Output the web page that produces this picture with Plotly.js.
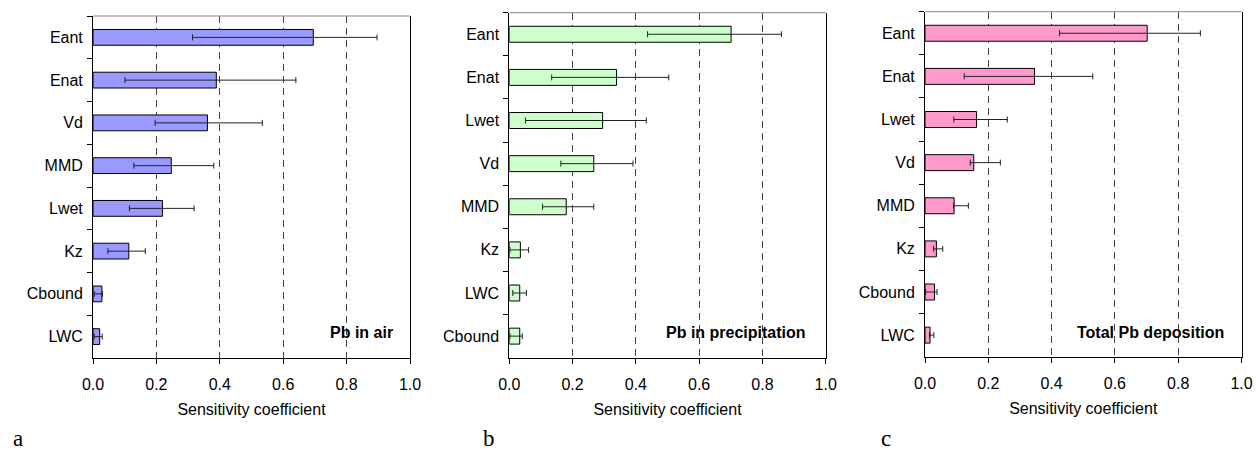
<!DOCTYPE html>
<html><head><meta charset="utf-8">
<script src="https://cdn.plot.ly/plotly-3.0.1.min.js"></script>
<style>html,body{margin:0;padding:0;background:#fff}#c{width:1256px;height:452px}</style>
</head><body><div id="c"></div><script>
// Panel a: Pb in air
const catsA = ['Eant','Enat','Vd','MMD','Lwet','Kz','Cbound','LWC'];
const valsA = [0.695,0.389,0.361,0.247,0.219,0.113,0.028,0.021];
const lowA  = [0.314,0.101,0.196,0.129,0.115,0.047,0.004,0.004];
const highA = [0.896,0.640,0.534,0.381,0.319,0.165,0.030,0.029];
// Panel b: Pb in precipitation
const catsB = ['Eant','Enat','Lwet','Vd','MMD','Kz','LWC','Cbound'];
const valsB = [0.701,0.339,0.295,0.267,0.180,0.035,0.033,0.033];
const lowB  = [0.437,0.134,0.051,0.163,0.105,0.002,0.011,0.002];
const highB = [0.860,0.504,0.433,0.391,0.267,0.061,0.054,0.041];
// Panel c: Total Pb deposition
const catsC = ['Eant','Enat','Lwet','Vd','MMD','Kz','Cbound','LWC'];
const valsC = [0.702,0.346,0.163,0.154,0.092,0.036,0.030,0.016];
const lowC  = [0.425,0.124,0.091,0.143,0.090,0.027,0.002,0.014];
const highC = [0.870,0.530,0.260,0.238,0.137,0.056,0.038,0.028];

const xTicks = [0,0.2,0.4,0.6,0.8,1.0];
const panelTitles = ['Pb in air','Pb in precipitation','Total Pb deposition'];
const panelLetters = ['a','b','c'];

const FONT = 'Liberation Sans, Arial, sans-serif';
const W = 1256, H = 452;
const panels = [
  {cats:catsA, vals:valsA, lo:lowA, hi:highA, color:'#9999FF', x:[93,410], y:[16,358], lab:395, letter:18},
  {cats:catsB, vals:valsB, lo:lowB, hi:highB, color:'#CCFFCC', x:[509.3,825.7], y:[12.7,357.7], lab:808, letter:489},
  {cats:catsC, vals:valsC, lo:lowC, hi:highC, color:'#FF99CC', x:[925,1241.5], y:[11.7,356.7], lab:1226, letter:886}
];

const data = [];
const layout = {
  width: W, height: H, margin:{l:0,r:0,t:0,b:0},
  paper_bgcolor:'#fff', plot_bgcolor:'#fff', showlegend:false,
  bargap: 0.63, font:{family:FONT, size:16, color:'#000'},
  shapes:[], annotations:[]
};

panels.forEach((p,i)=>{
  const n = i===0 ? '' : String(i+1);
  data.push({
    type:'bar', orientation:'h', x:p.vals, y:p.cats,
    xaxis:'x'+n, yaxis:'y'+n,
    marker:{color:p.color, line:{color:'#000', width:1}},
    error_x:{type:'data', symmetric:false,
      array:p.vals.map((v,k)=>p.hi[k]-v),
      arrayminus:p.vals.map((v,k)=>v-p.lo[k]),
      color:'#222', thickness:1, width:3},
    hoverinfo:'x+y'
  });
  layout['xaxis'+n] = {
    domain:[p.x[0]/W, p.x[1]/W], anchor:'y'+n, range:[0,1],
    tickvals:xTicks, tickformat:'.1f', ticks:'outside', ticklen:5, tickcolor:'#000',
    showline:true, linecolor:'#000', linewidth:1, zeroline:false,
    showgrid:true, gridcolor:'#444', gridwidth:1, griddash:'7px,5px',
    tickfont:{family:FONT, size:16, color:'#000'}, ticklabelstandoff:7,
    title:{text:'Sensitivity coefficient', font:{family:FONT, size:16, color:'#000'}, standoff:11}
  };
  layout['yaxis'+n] = {
    domain:[1-p.y[1]/H, 1-p.y[0]/H], anchor:'x'+n, type:'category',
    autorange:'reversed', ticks:'outside', tickson:'boundaries', ticklen:5, tickcolor:'#000',
    showline:true, mirror:true, linecolor:'#000', linewidth:1, showgrid:false, zeroline:false,
    tickfont:{family:FONT, size:16, color:'#000'}, ticklabelstandoff:6
  };
  layout.shapes.push({type:'line', xref:'x'+n+' domain', yref:'y'+n+' domain',
    x0:0, x1:1, y0:1, y1:1, line:{color:'#888', width:1}});
  layout.annotations.push({xref:'paper', yref:'paper', x:p.lab/W, y:1-332/H,
    xanchor:'right', yanchor:'middle', showarrow:false, text:'<b>'+panelTitles[i]+'</b>',
    font:{family:FONT, size:16, color:'#000'}});
  layout.annotations.push({xref:'paper', yref:'paper', x:p.letter/W, y:1-438/H,
    xanchor:'center', yanchor:'middle', showarrow:false, text:panelLetters[i],
    font:{family:'Liberation Serif, Times New Roman, serif', size:23, color:'#000'}});
});

Plotly.newPlot('c', data, layout, {displayModeBar:false, staticPlot:true});
</script></body></html>
